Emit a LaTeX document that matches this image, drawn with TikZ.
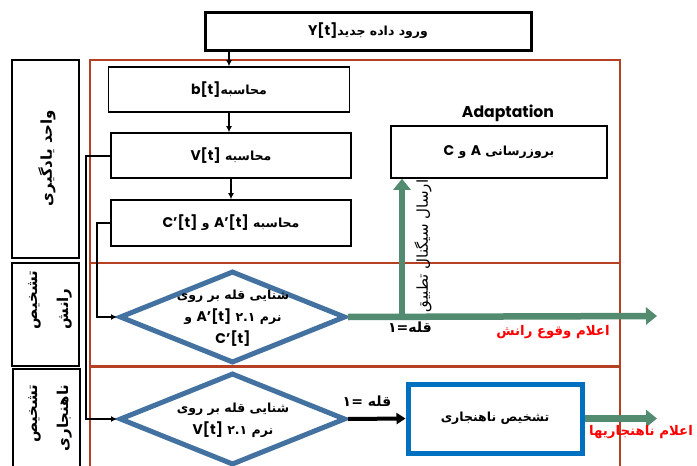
\documentclass[tikz,border=0pt]{standalone}
\usepackage{fontspec}
\setmainfont{DejaVu Sans}
\newfontfamily\fa[Script=Arabic]{DejaVu Sans}
\newfontfamily\lat{Poppins}[Scale=1.12]
\TeXXeTstate=1
\usetikzlibrary{shapes.geometric,arrows.meta}
\newcommand\LT[1]{\beginL{\lat\bfseries #1}\endL}
\newcommand\LN[1]{\beginL #1\endL}
\definecolor{frameRed}{RGB}{181,64,36}
\definecolor{diaBlue}{RGB}{68,114,160}
\definecolor{boxBlue}{RGB}{0,112,192}
\definecolor{sigGreen}{RGB}{82,139,111}
\definecolor{alertRed}{RGB}{255,0,0}
\tikzset{
  box/.style={draw=black, line width=1.6pt, rectangle, inner sep=0pt, font=\fa\bfseries\fontsize{12.5pt}{15pt}\selectfont},
  lane/.style={draw=black, line width=2pt, rectangle, inner sep=0pt},
  lanetxt/.style={rotate=90, inner sep=0pt, font=\fa\bfseries\fontsize{15pt}{31pt}\selectfont},
  diam/.style={draw=diaBlue, line width=5pt, diamond, minimum width=226pt, minimum height=92pt, inner sep=0pt},
  diamtxt/.style={inner sep=0pt, align=center, font=\fa\bfseries\fontsize{12.5pt}{22pt}\selectfont},
  frame/.style={draw=frameRed, line width=2.5pt},
  arr/.style={-{Latex[length=6pt,width=6pt]}, line width=2pt},
  thickarr/.style={-{Triangle[length=9pt,width=11pt]}, line width=4pt},
  grn/.style={draw=sigGreen, line width=6.5pt, -{Triangle[length=11pt,width=17pt]}},
  lbl/.style={inner sep=0pt, font=\fa\bfseries\fontsize{14pt}{16pt}\selectfont},
  alert/.style={inner sep=0pt, text=alertRed, font=\fa\bfseries\fontsize{13.3pt}{15pt}\selectfont},
}
\begin{document}
\begin{tikzpicture}[x=1pt,y=-1pt]
\useasboundingbox (0,0) rectangle (697,466);
\clip (0,0) rectangle (697,466);
\fill[white] (0,0) rectangle (697,466);
% swimlane frame
\draw[frame] (90,60) rectangle (620,490);
\draw[frame] (90,263) -- (620,263);
\draw[frame] (90,366.5) -- (620,366.5);
% lane labels
\node[lane, minimum width=67pt, minimum height=198pt] (lane1) at (45.5,159) {};
\node[lane, minimum width=67pt, minimum height=103pt] (lane2) at (45.5,314.5) {};
\node[lane, minimum width=67pt, minimum height=120pt] (lane3) at (46.5,429) {};
\node[lanetxt] (lane1t) at (47,158) {\beginR واحد یادگیری\endR};
\node[lanetxt, align=left] (lane2t) at (50,300) {\beginR تشخیص\endR\\\beginR رانش\endR};
\node[lanetxt, align=right] (lane3t) at (50,418) {\beginR تشخیص\endR\\\beginR ناهنجاری\endR};
% boxes
\node[box, line width=3pt, minimum width=326pt, minimum height=38pt] (top) at (368,31) {\beginR ورود داده جدید\LT{Y[t]}\endR};
\node[box, minimum width=241pt, minimum height=45pt] (b) at (229,89.5) {\beginR محاسبه\LT{b[t]}\endR};
\node[box, minimum width=240pt, minimum height=45pt] (V) at (231,155.5) {\beginR محاسبه \LT{V[t]}\endR};
\node[box, minimum width=240pt, minimum height=46pt] (C) at (231,223) {\beginR محاسبه \LT{A’[t]} و \LT{C’[t]}\endR};
\node[box, minimum width=216pt, minimum height=52pt] (adapt) at (499,152) {\beginR بروزرسانی \LT{A} و \LT{C}\endR};
\node[inner sep=0pt, font=\lat\bfseries\fontsize{14pt}{17pt}\selectfont] (adaptlbl) at (508,113) {Adaptation};
\node[box, draw=boxBlue, line width=5pt, minimum width=174pt, minimum height=69pt] (anom) at (495,418.5) {\beginR تشخیص ناهنجاری\endR};
% diamonds
\node[diam] (d1) at (232.5,317) {};
\node[diamtxt] (d1t) at (233,318) {\beginR شنایی قله بر روی\endR\\\beginR نرم \LN{۲.۱} \LT{A’[t]} و\endR\\\LT{C’[t]}};
\node[diam] (d2) at (232.5,419) {};
\node[diamtxt] (d2t) at (233,420) {\beginR شنایی قله بر روی\endR\\\beginR نرم \LN{۲.۱} \LT{V[t]}\endR};
% coordinates for free ends
\coordinate (g1end) at (657,316);
\coordinate (g2end) at (657,418.5);
\coordinate (gjoin) at (402,316);
% black connectors
\draw[arr] (top.south -| b.north) -- (b.north);
\draw[arr] (b.south) -- (V.north -| b.south);
\draw[arr] (V.south -| C.north) -- (C.north);
\draw[arr] (V.west) -- ++(-24,0) |- (d2.west);
\draw[arr] (C.west) -- ++(-13,0) |- (d1.west);
\draw[thickarr] (d2.east) -- (anom.west);
% green signals
\draw[grn] (d1.east) -- (g1end);
\draw[grn] (gjoin) -- (gjoin |- adapt.south);
\draw[grn] (anom.east) -- (g2end);
% labels
\node[lbl] (peak1) at (410,327) {\beginR قله=۱\endR};
\node[lbl] (peak2) at (367,401) {\beginR قله =۱\endR};
\node[inner sep=0pt, rotate=90, font=\fa\fontsize{15pt}{17pt}\selectfont] (siglbl) at (423,246) {\beginR ارسال سیگنال تطبیق\endR};
\node[alert] (drift) at (553,332) {\beginR اعلام وقوع رانش\endR};
\node[alert] (anomaly) at (641,432) {\beginR اعلام ناهنجاریها\endR};
\end{tikzpicture}
\end{document}
